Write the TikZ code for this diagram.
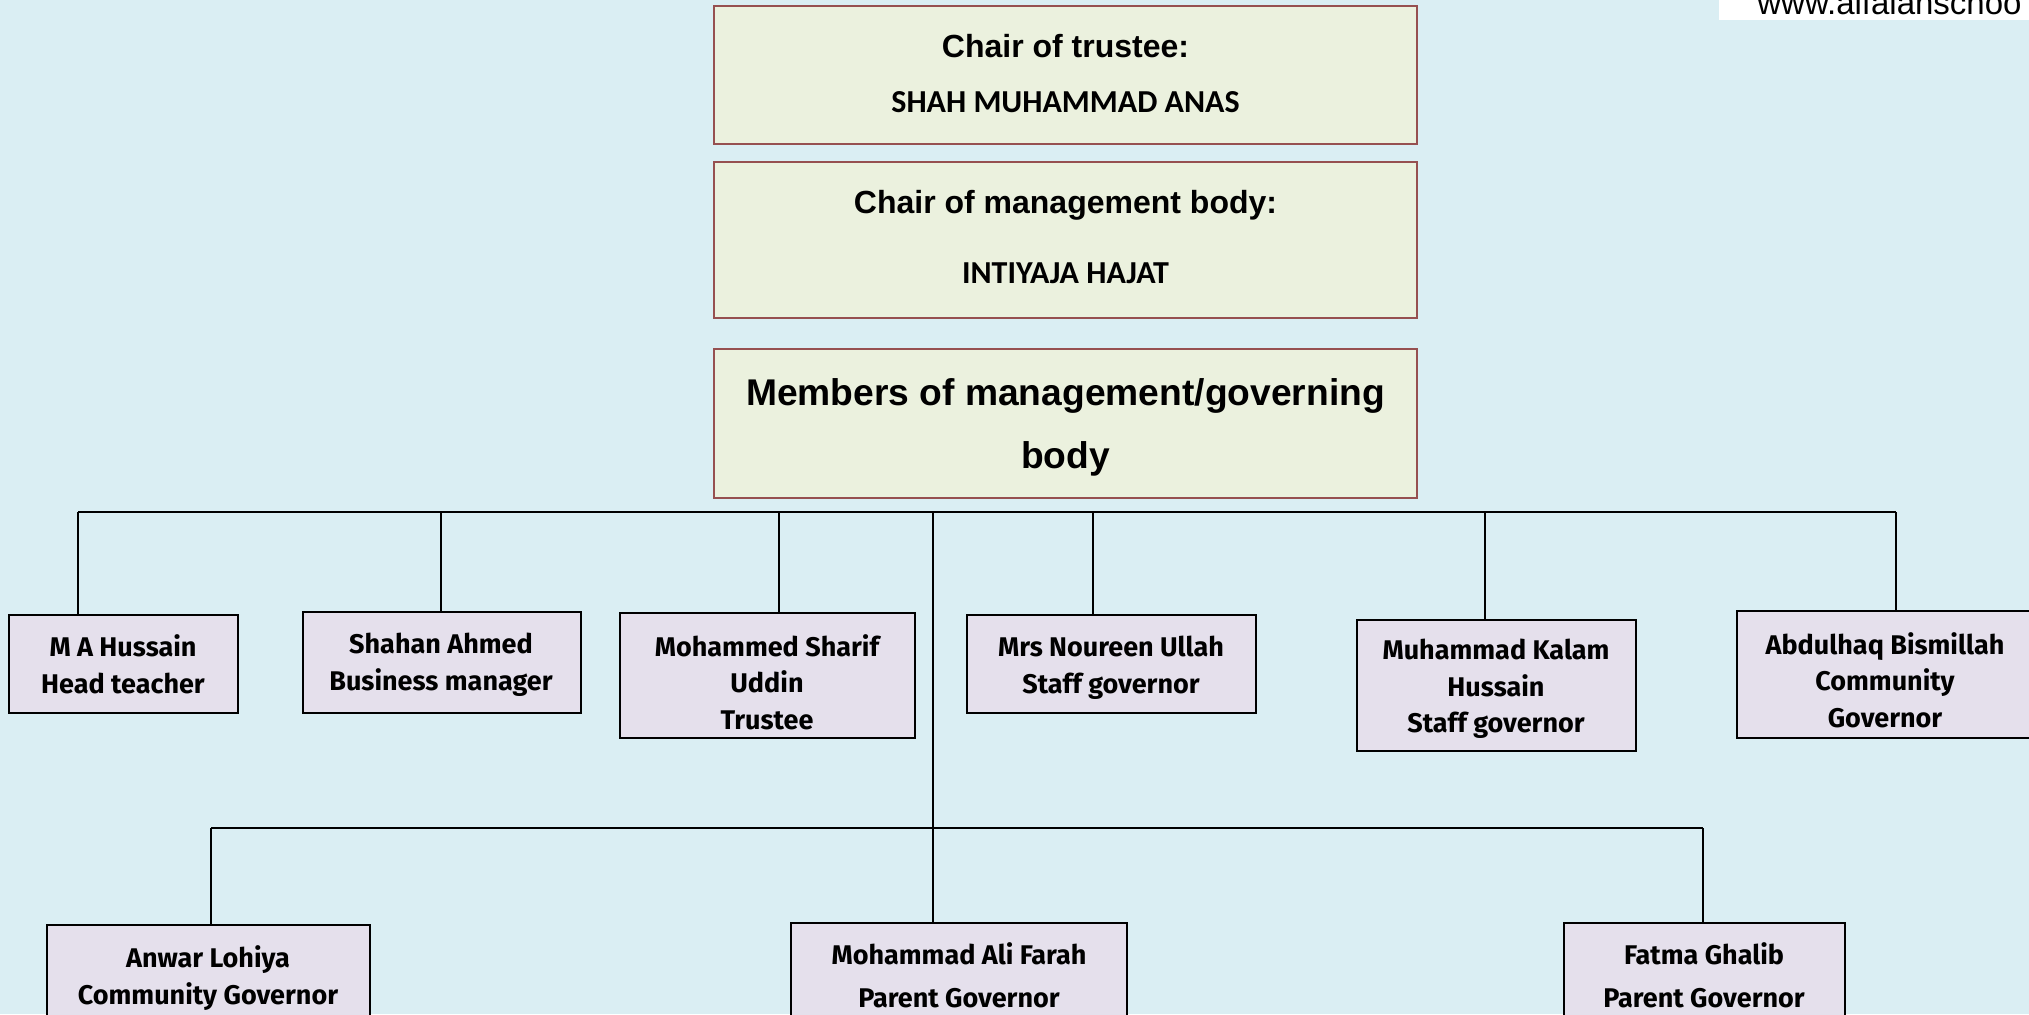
\documentclass[tikz,border=0pt]{standalone}
\usepackage{fontspec}
\setmainfont{Liberation Sans}
\newfontfamily\calibrifont{Carlito}
\newfontfamily\comicfont{Fira Sans}
\definecolor{bgblue}{HTML}{DAEEF3}
\definecolor{topfill}{HTML}{EBF1DE}
\definecolor{topborder}{RGB}{150,80,80}
\definecolor{lowfill}{HTML}{E5E0EC}
\tikzset{
  topbox/.style={draw=topborder, fill=topfill, line width=0.6pt, anchor=north west, inner sep=0pt, outer sep=0pt},
  pbox/.style={draw=black, fill=lowfill, line width=1pt, anchor=north west, inner sep=0pt, outer sep=0pt},
  ptxt/.style={inner sep=0pt, align=center, font=\comicfont\bfseries\fontsize{13.5}{18.3}\selectfont},
  ptxtw/.style={ptxt, font=\comicfont\bfseries\fontsize{13.5}{21.3}\selectfont},
  headtxt/.style={font=\bfseries\fontsize{16}{19}\selectfont, inner sep=0pt},
  nametxt/.style={font=\calibrifont\bfseries\fontsize{16}{18}\selectfont, inner sep=0pt},
  conn/.style={draw=black, line width=0.8pt}
}
\begin{document}
\begin{tikzpicture}[x=0.5pt,y=-0.5pt]
\useasboundingbox (0,0) rectangle (2029,1014);
\clip (0,0) rectangle (2029,1014);
\fill[bgblue] (0,0) rectangle (2029,1014);
% website banner
\fill[white] (1719,-5) rectangle (2040,20);
\node[anchor=base west, inner sep=0pt, font=\fontsize{16.5}{19}\selectfont] (web) at (1757,14) {www.alfalahschoo};
% top boxes
\node[topbox, minimum width=351.5pt, minimum height=69pt] (chairT) at (714,6) {};
\node[headtxt] (chairTt) at (1065.5,46) {Chair of trustee:};
\node[nametxt] (chairTn) at (1065.5,102) {SHAH MUHAMMAD ANAS};
\node[topbox, minimum width=351.5pt, minimum height=78pt] (chairM) at (714,162) {};
\node[headtxt] (chairMt) at (1065.5,205) {Chair of management body:};
\node[nametxt] (chairMn) at (1065.5,273) {INTIYAJA HAJAT};
\node[topbox, minimum width=351.5pt, minimum height=74.5pt] (members) at (714,349) {};
\node[font=\bfseries\fontsize{18.6}{22}\selectfont, inner sep=0pt] (membersA) at (1065.5,396) {Members of management/governing};
\node[font=\bfseries\fontsize{18.6}{22}\selectfont, inner sep=0pt] (membersB) at (1065.5,459) {body};
% middle row boxes
\node[pbox, minimum width=114.5pt, minimum height=49pt] (A) at (9,615) {};
\node[pbox, minimum width=139pt, minimum height=50.5pt] (B) at (303,612) {};
\node[pbox, minimum width=147.5pt, minimum height=62.5pt] (C) at (620,613) {};
\node[pbox, minimum width=144.5pt, minimum height=49pt] (D) at (967,615) {};
\node[pbox, minimum width=139.5pt, minimum height=65.5pt] (E) at (1357,620) {};
\node[pbox, minimum width=148pt, minimum height=63.5pt] (F) at (1737,611) {};
% bottom row boxes
\node[pbox, minimum width=161.5pt, minimum height=52pt] (G) at (47,925) {};
\node[pbox, minimum width=168pt, minimum height=53pt] (H) at (791,923) {};
\node[pbox, minimum width=140.5pt, minimum height=53pt] (I) at (1564,923) {};
% texts
\node[ptxt] (At) at (123,664) {M A Hussain\\Head teacher};
\node[ptxt] (Bt) at (441,665) {Shahan Ahmed\\Business manager};
\node[ptxt] (Ct) at (767,682) {Mohammed Sharif\\Uddin\\Trustee};
\node[ptxt] (Dt) at (1111,668) {Mrs Noureen Ullah\\Staff governor};
\node[ptxt] (Et) at (1496,689) {Muhammad Kalam\\Hussain\\Staff governor};
\node[ptxt] (Ft) at (1885,680) {Abdulhaq Bismillah\\Community\\Governor};
\node[ptxt] (Gt) at (208,978) {Anwar Lohiya\\Community Governor};
\node[ptxtw] (Ht) at (959,975) {Mohammad Ali Farah\\Parent Governor};
\node[ptxtw] (It) at (1704,975) {Fatma Ghalib\\Parent Governor};
% bus coordinates
\coordinate (bA) at (78,512);
\coordinate (bB) at (441,512);
\coordinate (bC) at (779,512);
\coordinate (bT) at (933,512);
\coordinate (bD) at (1093,512);
\coordinate (bE) at (1485,512);
\coordinate (bF) at (1896,512);
\coordinate (lT) at (933,828);
\coordinate (lG) at (211,828);
\coordinate (lI) at (1703,828);
% connectors
\draw[conn] (bA) -- (bF);
\draw[conn] (bA) -- (bA |- A.north);
\draw[conn] (bB) -- (bB |- B.north);
\draw[conn] (bC) -- (bC |- C.north);
\draw[conn] (bD) -- (bD |- D.north);
\draw[conn] (bE) -- (bE |- E.north);
\draw[conn] (bF) -- (bF |- F.north);
\draw[conn] (bT) -- (lT);
\draw[conn] (lG) -- (lI);
\draw[conn] (lG) -- (lG |- G.north);
\draw[conn] (lT) -- (lT |- H.north);
\draw[conn] (lI) -- (lI |- I.north);
\end{tikzpicture}
\end{document}
